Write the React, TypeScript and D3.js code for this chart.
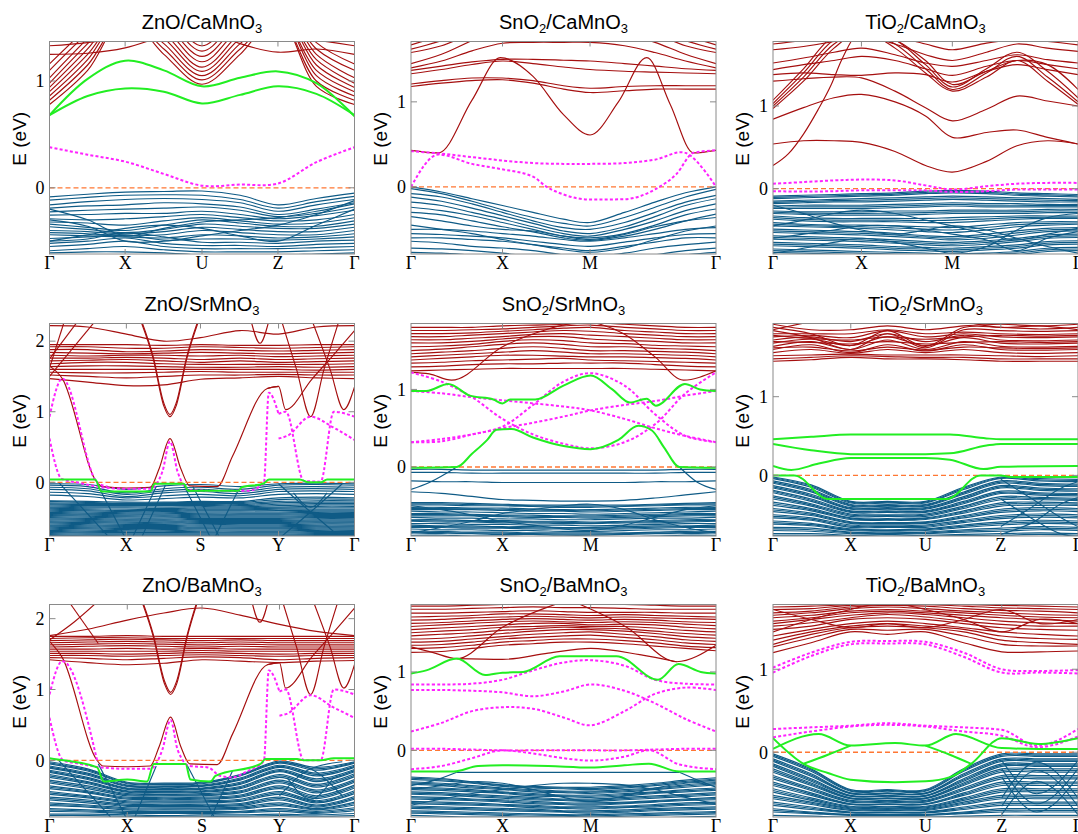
import React, { useEffect, useRef } from "react";
import * as d3 from "d3";

type Band = number[] | { k: number[]; e: number[] };

// ---------- ZnO/CaMnO3 ----------
const znoCaLabels = ["Γ", "X", "U", "Z", "Γ"];
const znoCaTicks = [0, 0.248, 0.5, 0.749, 1];
const znoCaK = [0, 0.125, 0.248, 0.375, 0.5, 0.625, 0.749, 0.875, 1];
const znoCaBlue: Band[] = [
  [-0.085, -0.06, -0.04, -0.035, -0.03, -0.07, -0.16, -0.1, -0.05],
  [-0.115, -0.09, -0.07, -0.065, -0.07, -0.11, -0.19, -0.13, -0.08],
  [-0.16, -0.13, -0.11, -0.1, -0.11, -0.14, -0.22, -0.16, -0.11],
  [-0.19, -0.17, -0.16, -0.14, -0.15, -0.18, -0.25, -0.2, -0.14],
  [-0.225, -0.21, -0.2, -0.19, -0.18, -0.21, -0.27, -0.24, -0.18],
  [-0.256, -0.25, -0.24, -0.24, -0.22, -0.25, -0.29, -0.26, -0.21],
  [-0.29, -0.3, -0.29, -0.27, -0.25, -0.28, -0.31, -0.3, -0.25],
  [-0.32, -0.33, -0.35, -0.31, -0.28, -0.31, -0.34, -0.33, -0.28],
  [-0.34, -0.37, -0.4, -0.35, -0.3, -0.33, -0.36, -0.36, -0.31],
  [-0.365, -0.39, -0.42, -0.39, -0.34, -0.36, -0.38, -0.38, -0.34],
  [-0.4, -0.41, -0.43, -0.41, -0.37, -0.39, -0.41, -0.41, -0.37],
  [-0.42, -0.43, -0.45, -0.44, -0.4, -0.42, -0.44, -0.44, -0.4],
  [-0.44, -0.45, -0.46, -0.47, -0.44, -0.45, -0.47, -0.46, -0.43],
  [-0.475, -0.46, -0.44, -0.49, -0.48, -0.48, -0.49, -0.48, -0.46],
  [-0.5, -0.48, -0.42, -0.46, -0.51, -0.51, -0.52, -0.5, -0.49],
  [-0.52, -0.5, -0.47, -0.52, -0.54, -0.54, -0.55, -0.53, -0.52],
  [-0.55, -0.53, -0.5, -0.55, -0.57, -0.57, -0.57, -0.56, -0.55],
  [-0.59, -0.57, -0.55, -0.58, -0.6, -0.6, -0.6, -0.59, -0.58],
  [-0.61, -0.6, -0.6, -0.61, -0.63, -0.63, -0.63, -0.62, -0.61],
  [-0.2, -0.3, -0.45, -0.38, -0.32, -0.3, -0.28, -0.22, -0.15],
  [-0.3, -0.36, -0.5, -0.5, -0.45, -0.4, -0.35, -0.25, -0.12],
  [-0.5, -0.44, -0.38, -0.35, -0.38, -0.45, -0.5, -0.35, -0.2],
];
const znoCaRed: Band[] = [
  [0.78, 1.1, 1.6, 1.25, 0.97, 1.25, 1.6, 0.95, 0.78],
  [0.82, 1.15, 1.6, 1.3, 1.01, 1.3, 1.6, 1.0, 0.82],
  [0.86, 1.2, 1.65, 1.35, 1.05, 1.35, 1.65, 1.05, 0.86],
  [0.9, 1.25, 1.65, 1.4, 1.09, 1.4, 1.65, 1.1, 0.9],
  [0.94, 1.3, 1.7, 1.45, 1.13, 1.45, 1.7, 1.15, 0.94],
  [0.98, 1.35, 1.7, 1.5, 1.18, 1.5, 1.7, 1.2, 0.98],
  [1.03, 1.4, 1.75, 1.55, 1.23, 1.55, 1.75, 1.25, 1.03],
  [1.1, 1.45, 1.75, 1.6, 1.28, 1.6, 1.75, 1.3, 1.1],
  [1.16, 1.5, 1.8, 1.65, 1.33, 1.65, 1.8, 1.36, 1.16],
  [1.25, 1.26, 1.31, 1.42, 1.5, 1.35, 1.27, 1.3, 1.25],
  [1.33, 1.36, 1.42, 1.6, 1.7, 1.5, 1.4, 1.38, 1.33],
];
const znoCaGreen: Band[] = [
  [0.68, 1.02, 1.19, 1.1, 0.95, 1.03, 1.09, 0.98, 0.67],
  [0.68, 0.86, 0.93, 0.9, 0.79, 0.87, 0.95, 0.88, 0.68],
];
const znoCaMagenta: Band[] = [[0.38, 0.31, 0.245, 0.13, 0.02, 0.03, 0.04, 0.24, 0.38]];

// ---------- SnO2/CaMnO3 ----------
const snoCaLabels = ["Γ", "X", "M", "Γ"];
const snoCaTicks = [0, 0.3, 0.587, 1];
const snoCaK = [0, 0.1, 0.2, 0.3, 0.4, 0.5, 0.587, 0.7, 0.8, 0.9, 1];
const snoCaBlue: Band[] = [
  [0.0, -0.06, -0.14, -0.22, -0.3, -0.38, -0.42, -0.3, -0.18, -0.07, 0.0],
  [-0.02, -0.08, -0.17, -0.27, -0.36, -0.43, -0.46, -0.36, -0.24, -0.12, -0.03],
  [-0.08, -0.12, -0.2, -0.3, -0.4, -0.48, -0.5, -0.42, -0.3, -0.18, -0.1],
  [-0.12, -0.17, -0.25, -0.34, -0.43, -0.52, -0.55, -0.47, -0.35, -0.22, -0.14],
  [-0.18, -0.22, -0.3, -0.38, -0.47, -0.55, -0.58, -0.5, -0.4, -0.28, -0.2],
  [-0.24, -0.28, -0.34, -0.42, -0.5, -0.58, -0.6, -0.55, -0.45, -0.33, -0.26],
  [-0.3, -0.33, -0.4, -0.47, -0.53, -0.6, -0.63, -0.58, -0.5, -0.4, -0.32],
  [-0.5, -0.5, -0.52, -0.55, -0.58, -0.62, -0.64, -0.6, -0.55, -0.5, -0.48],
  [-0.55, -0.56, -0.58, -0.6, -0.64, -0.68, -0.7, -0.65, -0.6, -0.56, -0.55],
  [-0.6, -0.6, -0.62, -0.64, -0.68, -0.72, -0.75, -0.7, -0.65, -0.6, -0.6],
  [-0.64, -0.66, -0.7, -0.72, -0.75, -0.8, -0.82, -0.78, -0.72, -0.68, -0.65],
  [-0.72, -0.73, -0.75, -0.78, -0.82, -0.85, -0.9, -0.85, -0.8, -0.75, -0.72],
  [-0.77, -0.78, -0.8, -0.82, -0.85, -0.9, -0.9, -0.88, -0.85, -0.8, -0.77],
  [-0.35, -0.4, -0.46, -0.5, -0.52, -0.58, -0.62, -0.56, -0.47, -0.4, -0.36],
  [-0.45, -0.5, -0.55, -0.62, -0.68, -0.74, -0.77, -0.72, -0.62, -0.52, -0.46],
];
const snoCaRed: Band[] = [
  { k: [0, 0.09, 0.2, 0.293, 0.4, 0.5, 0.587, 0.68, 0.773, 0.85, 0.926, 1], e: [0.43, 0.4, 1.02, 1.52, 1.3, 0.85, 0.61, 1.0, 1.52, 0.97, 0.4, 0.43] },
  [1.18, 1.22, 1.25, 1.26, 1.22, 1.15, 1.11, 1.13, 1.15, 1.15, 1.15],
  [1.21, 1.25, 1.28, 1.28, 1.25, 1.19, 1.16, 1.18, 1.19, 1.19, 1.19],
  [1.33, 1.38, 1.44, 1.48, 1.45, 1.41, 1.38, 1.36, 1.35, 1.34, 1.33],
  [1.37, 1.42, 1.47, 1.5, 1.5, 1.49, 1.48, 1.45, 1.42, 1.39, 1.37],
  [1.4, 1.48, 1.6, 1.69, 1.7, 1.7, 1.7, 1.66, 1.58, 1.48, 1.4],
  [1.45, 1.56, 1.72, 1.85, 1.85, 1.85, 1.85, 1.8, 1.7, 1.56, 1.45],
  [1.58, 1.66, 1.8, 1.9, 1.9, 1.9, 1.9, 1.9, 1.8, 1.66, 1.58],
  [1.62, 1.72, 1.85, 1.95, 1.95, 1.95, 1.95, 1.95, 1.85, 1.72, 1.62],
  [1.67, 1.78, 1.9, 2.0, 2.0, 2.0, 2.0, 2.0, 1.9, 1.78, 1.67],
];
const snoCaMagenta: Band[] = [
  [0.42, 0.39, 0.35, 0.31, 0.28, 0.27, 0.27, 0.28, 0.32, 0.4, 0.0],
  { k: [0, 0.09, 0.2, 0.293, 0.4, 0.445, 0.5, 0.587, 0.7, 0.8, 0.87, 0.926, 1], e: [0.0, 0.38, 0.27, 0.21, 0.12, 0.0, -0.09, -0.15, -0.145, -0.03, 0.15, 0.4, 0.43] },
];

// ---------- TiO2/CaMnO3 ----------
const tioCaLabels = ["Γ", "X", "M", "Γ"];
const tioCaTicks = [0, 0.29, 0.588, 1];
const tioCaK = [0, 0.1, 0.2, 0.29, 0.4, 0.5, 0.588, 0.7, 0.8, 0.9, 1];
const tioCaBlue: Band[] = [
  [-0.09, -0.08, -0.07, -0.06, -0.05, -0.03, -0.02, -0.03, -0.05, -0.06, -0.07],
  [-0.105, -0.095, -0.085, -0.075, -0.065, -0.045, -0.035, -0.045, -0.065, -0.075, -0.085],
  [-0.12, -0.11, -0.1, -0.09, -0.08, -0.06, -0.05, -0.06, -0.08, -0.09, -0.1],
  [-0.15, -0.14, -0.13, -0.12, -0.11, -0.1, -0.09, -0.1, -0.11, -0.12, -0.13],
  [-0.165, -0.155, -0.145, -0.14, -0.13, -0.12, -0.11, -0.12, -0.13, -0.14, -0.145],
  [-0.18, -0.17, -0.16, -0.16, -0.15, -0.14, -0.13, -0.14, -0.15, -0.16, -0.16],
  [-0.21, -0.2, -0.2, -0.2, -0.19, -0.18, -0.17, -0.18, -0.18, -0.19, -0.19],
  [-0.225, -0.22, -0.22, -0.22, -0.21, -0.2, -0.19, -0.2, -0.2, -0.205, -0.205],
  [-0.24, -0.24, -0.24, -0.24, -0.23, -0.22, -0.21, -0.22, -0.22, -0.22, -0.22],
  [-0.27, -0.28, -0.28, -0.28, -0.27, -0.27, -0.26, -0.26, -0.26, -0.25, -0.25],
  [-0.285, -0.295, -0.3, -0.3, -0.295, -0.29, -0.28, -0.28, -0.28, -0.27, -0.27],
  [-0.3, -0.31, -0.32, -0.32, -0.32, -0.31, -0.3, -0.3, -0.3, -0.29, -0.29],
  [-0.33, -0.35, -0.36, -0.36, -0.36, -0.36, -0.35, -0.34, -0.33, -0.33, -0.33],
  [-0.35, -0.37, -0.38, -0.38, -0.38, -0.385, -0.38, -0.365, -0.35, -0.345, -0.345],
  [-0.37, -0.39, -0.4, -0.4, -0.4, -0.41, -0.41, -0.39, -0.37, -0.36, -0.36],
  [-0.41, -0.43, -0.44, -0.44, -0.45, -0.46, -0.47, -0.44, -0.41, -0.4, -0.4],
  [-0.43, -0.445, -0.455, -0.46, -0.475, -0.49, -0.5, -0.47, -0.435, -0.42, -0.415],
  [-0.45, -0.46, -0.47, -0.48, -0.5, -0.52, -0.53, -0.5, -0.46, -0.44, -0.43],
  [-0.49, -0.5, -0.51, -0.52, -0.54, -0.57, -0.58, -0.55, -0.51, -0.48, -0.47],
  [-0.51, -0.52, -0.53, -0.54, -0.56, -0.585, -0.6, -0.575, -0.535, -0.5, -0.49],
  [-0.53, -0.54, -0.55, -0.56, -0.58, -0.6, -0.62, -0.6, -0.56, -0.52, -0.51],
  [-0.57, -0.58, -0.59, -0.6, -0.62, -0.64, -0.65, -0.63, -0.6, -0.56, -0.55],
  [-0.59, -0.6, -0.61, -0.62, -0.64, -0.66, -0.67, -0.65, -0.62, -0.58, -0.57],
  [-0.61, -0.62, -0.63, -0.64, -0.66, -0.68, -0.69, -0.67, -0.64, -0.6, -0.59],
  [-0.65, -0.66, -0.67, -0.68, -0.7, -0.71, -0.72, -0.7, -0.68, -0.64, -0.63],
  [-0.67, -0.68, -0.69, -0.7, -0.72, -0.73, -0.74, -0.72, -0.7, -0.66, -0.65],
  [-0.69, -0.7, -0.71, -0.72, -0.74, -0.75, -0.76, -0.74, -0.72, -0.68, -0.67],
  [-0.73, -0.74, -0.75, -0.76, -0.77, -0.78, -0.79, -0.78, -0.76, -0.72, -0.71],
  [-0.75, -0.76, -0.77, -0.78, -0.79, -0.8, -0.805, -0.795, -0.78, -0.74, -0.73],
  [-0.77, -0.78, -0.79, -0.8, -0.81, -0.82, -0.82, -0.81, -0.8, -0.76, -0.75],
  [-0.2, -0.3, -0.42, -0.5, -0.55, -0.5, -0.45, -0.5, -0.6, -0.7, -0.78],
  [-0.45, -0.38, -0.3, -0.26, -0.3, -0.38, -0.45, -0.55, -0.62, -0.55, -0.48],
  [-0.6, -0.55, -0.5, -0.45, -0.45, -0.5, -0.55, -0.62, -0.75, -0.6, -0.52],
  [-0.78, -0.72, -0.65, -0.6, -0.65, -0.72, -0.78, -0.7, -0.5, -0.35, -0.3],
];
const tioCaRed: Band[] = [
  { k: [0, 0.05, 0.1, 0.147, 0.19, 0.223, 0.256, 0.3], e: [0.28, 0.42, 0.66, 0.95, 1.25, 1.54, 1.78, 2.0] },
  [0.54, 0.58, 0.58, 0.56, 0.45, 0.28, 0.2, 0.33, 0.52, 0.58, 0.54],
  [0.84, 0.98, 1.1, 1.14, 1.05, 0.88, 0.62, 0.68, 0.71, 0.62, 0.54],
  [1.3, 1.33, 1.35, 1.34, 1.18, 0.98, 0.82, 0.96, 1.12, 1.06, 1.0],
  [0.97, 1.3, 1.7, 1.9, 1.7, 1.4, 1.18, 1.35, 1.55, 1.3, 1.02],
  [1.0, 1.35, 1.75, 1.9, 1.75, 1.45, 1.2, 1.4, 1.6, 1.35, 1.05],
  [1.03, 1.4, 1.8, 1.9, 1.8, 1.5, 1.23, 1.45, 1.65, 1.42, 1.1],
  [1.07, 1.45, 1.85, 1.9, 1.8, 1.55, 1.26, 1.42, 1.55, 1.5, 1.2],
  [1.38, 1.4, 1.38, 1.37, 1.4, 1.38, 1.29, 1.42, 1.5, 1.44, 1.38],
  [1.44, 1.5, 1.55, 1.6, 1.55, 1.45, 1.37, 1.48, 1.55, 1.5, 1.45],
  [1.52, 1.58, 1.65, 1.7, 1.62, 1.52, 1.48, 1.55, 1.62, 1.56, 1.52],
  [1.68, 1.72, 1.78, 1.85, 1.75, 1.62, 1.55, 1.65, 1.75, 1.7, 1.66],
  [1.75, 1.8, 1.9, 1.95, 1.85, 1.75, 1.68, 1.76, 1.8, 1.78, 1.74],
];
const tioCaMagenta: Band[] = [
  [0.06, 0.08, 0.1, 0.11, 0.1, 0.04, -0.01, 0.03, 0.06, 0.07, 0.07],
  [-0.03, -0.035, -0.03, -0.02, -0.02, -0.02, -0.04, -0.03, -0.01, -0.01, -0.01],
];

// ---------- ZnO/SrMnO3 ----------
const znoSrLabels = ["Γ", "X", "S", "Y", "Γ"];
const znoSrTicks = [0, 0.252, 0.495, 0.751, 1];
const znoSrK = [0, 0.125, 0.252, 0.375, 0.495, 0.625, 0.751, 0.875, 1];
const znoSrBlue: Band[] = [
  [-0.02, -0.03, -0.1, -0.05, -0.03, -0.06, -0.02, -0.01, -0.02],
  [-0.04, -0.06, -0.15, -0.09, -0.07, -0.1, -0.04, -0.03, -0.04],
  [-0.07, -0.09, -0.17, -0.12, -0.1, -0.13, -0.07, -0.06, -0.07],
  [-0.1, -0.12, -0.2, -0.15, -0.13, -0.16, -0.1, -0.09, -0.1],
  [-0.14, -0.16, -0.22, -0.19, -0.17, -0.19, -0.13, -0.12, -0.13],
  [-0.18, -0.2, -0.25, -0.23, -0.21, -0.22, -0.17, -0.16, -0.17],
  [-0.26, -0.27, -0.28, -0.28, -0.27, -0.27, -0.22, -0.21, -0.22],
  [-0.27, -0.285, -0.295, -0.29, -0.285, -0.285, -0.245, -0.235, -0.24],
  [-0.29, -0.3, -0.3, -0.3, -0.3, -0.3, -0.27, -0.26, -0.26],
  [-0.305, -0.315, -0.315, -0.315, -0.315, -0.315, -0.29, -0.28, -0.28],
  [-0.32, -0.33, -0.33, -0.33, -0.33, -0.33, -0.31, -0.3, -0.3],
  [-0.335, -0.345, -0.345, -0.35, -0.345, -0.345, -0.33, -0.32, -0.32],
  [-0.35, -0.36, -0.36, -0.37, -0.36, -0.36, -0.35, -0.34, -0.34],
  [-0.365, -0.375, -0.38, -0.385, -0.375, -0.375, -0.365, -0.36, -0.36],
  [-0.38, -0.39, -0.4, -0.4, -0.39, -0.39, -0.38, -0.38, -0.38],
  [-0.395, -0.405, -0.415, -0.415, -0.405, -0.405, -0.4, -0.395, -0.395],
  [-0.41, -0.42, -0.43, -0.43, -0.42, -0.42, -0.42, -0.41, -0.41],
  [-0.425, -0.435, -0.445, -0.445, -0.435, -0.435, -0.435, -0.425, -0.425],
  [-0.44, -0.45, -0.46, -0.46, -0.45, -0.45, -0.45, -0.44, -0.44],
  [-0.455, -0.465, -0.475, -0.475, -0.465, -0.465, -0.465, -0.455, -0.455],
  [-0.47, -0.48, -0.49, -0.49, -0.48, -0.48, -0.48, -0.47, -0.47],
  [-0.485, -0.495, -0.505, -0.505, -0.495, -0.495, -0.495, -0.485, -0.485],
  [-0.5, -0.51, -0.52, -0.52, -0.51, -0.51, -0.51, -0.5, -0.5],
  [-0.515, -0.525, -0.535, -0.535, -0.525, -0.525, -0.525, -0.515, -0.515],
  [-0.53, -0.54, -0.55, -0.55, -0.54, -0.54, -0.54, -0.53, -0.53],
  [-0.545, -0.555, -0.565, -0.565, -0.555, -0.555, -0.555, -0.545, -0.545],
  [-0.56, -0.57, -0.58, -0.58, -0.57, -0.57, -0.57, -0.56, -0.56],
  [-0.575, -0.585, -0.595, -0.595, -0.585, -0.585, -0.585, -0.575, -0.575],
  [-0.59, -0.6, -0.61, -0.61, -0.6, -0.6, -0.6, -0.59, -0.59],
  [-0.605, -0.615, -0.625, -0.625, -0.615, -0.615, -0.615, -0.605, -0.605],
  [-0.62, -0.63, -0.64, -0.64, -0.63, -0.63, -0.63, -0.62, -0.62],
  [-0.635, -0.645, -0.655, -0.655, -0.645, -0.645, -0.645, -0.635, -0.635],
  [-0.65, -0.66, -0.67, -0.67, -0.66, -0.66, -0.66, -0.65, -0.65],
  [-0.665, -0.675, -0.685, -0.685, -0.675, -0.675, -0.675, -0.665, -0.665],
  [-0.68, -0.69, -0.7, -0.7, -0.69, -0.69, -0.69, -0.68, -0.68],
  [-0.695, -0.705, -0.71, -0.71, -0.705, -0.705, -0.705, -0.695, -0.695],
  [-0.71, -0.72, -0.72, -0.72, -0.72, -0.72, -0.72, -0.71, -0.71],
  [-0.725, -0.735, -0.735, -0.735, -0.735, -0.735, -0.735, -0.725, -0.725],
  [-0.74, -0.75, -0.75, -0.75, -0.75, -0.75, -0.75, -0.74, -0.74],
  [-0.755, -0.76, -0.765, -0.765, -0.76, -0.76, -0.76, -0.755, -0.755],
  { k: [0.03, 0.2], e: [0.0, -0.8] },
  { k: [0.156, 0.25], e: [-0.02, -0.8] },
  { k: [0.27, 0.35], e: [-0.8, -0.06] },
  { k: [0.3, 0.38], e: [-0.8, -0.04] },
  { k: [0.44, 0.53], e: [-0.04, -0.8] },
  { k: [0.47, 0.56], e: [-0.06, -0.8] },
  { k: [0.54, 0.62], e: [-0.8, -0.1] },
  { k: [0.751, 0.856, 0.96], e: [-0.02, -0.42, -0.8] },
  { k: [0.751, 0.856, 0.96], e: [-0.8, -0.42, -0.02] },
  { k: [0.8, 0.856, 0.91], e: [-0.15, -0.35, -0.15] },
];
const znoSrRed: Band[] = [
  [1.47, 1.42, 1.37, 1.38, 1.46, 1.48, 1.5, 1.48, 1.47],
  [1.52, 1.5, 1.48, 1.5, 1.52, 1.52, 1.53, 1.52, 1.52],
  [1.56, 1.55, 1.55, 1.56, 1.57, 1.56, 1.56, 1.56, 1.56],
  [1.6, 1.6, 1.6, 1.6, 1.6, 1.6, 1.6, 1.59, 1.6],
  [1.64, 1.65, 1.65, 1.64, 1.63, 1.63, 1.64, 1.63, 1.64],
  [1.68, 1.7, 1.7, 1.68, 1.67, 1.67, 1.67, 1.67, 1.68],
  [1.72, 1.73, 1.74, 1.72, 1.7, 1.72, 1.7, 1.71, 1.72],
  [1.76, 1.76, 1.77, 1.76, 1.74, 1.76, 1.74, 1.75, 1.76],
  [1.8, 1.79, 1.8, 1.8, 1.79, 1.8, 1.78, 1.79, 1.8],
  [1.84, 1.83, 1.82, 1.83, 1.84, 1.83, 1.82, 1.83, 1.84],
  [1.88, 1.88, 1.85, 1.86, 1.88, 1.87, 1.86, 1.87, 1.88],
  [1.92, 1.92, 1.9, 1.9, 1.92, 1.91, 1.9, 1.91, 1.92],
  [1.95, 1.95, 1.95, 1.94, 1.95, 1.94, 1.94, 1.95, 1.95],
  [2.22, 2.2, 2.1, 2.0, 2.05, 2.15, 2.1, 2.2, 2.22],
  { k: [0, 0.042, 0.156, 0.175, 0.252, 0.33, 0.36, 0.395, 0.43, 0.46, 0.55, 0.6, 0.714, 0.751], e: [1.65, 1.47, 0.0, -0.06, -0.08, -0.07, 0.2, 0.62, 0.2, -0.05, -0.06, 0.37, 1.33, 1.36] },
  { k: [0, 0.05], e: [1.62, 2.3] },
  { k: [0, 0.153], e: [1.5, 2.3] },
  { k: [0, 0.096], e: [1.75, 2.3] },
  { k: [0.298, 0.34, 0.375, 0.395, 0.415, 0.45, 0.49], e: [2.3, 1.75, 1.08, 0.93, 1.08, 1.75, 2.3] },
  { k: [0.298, 0.34, 0.375, 0.395, 0.415, 0.45, 0.49], e: [2.33, 1.78, 1.12, 0.96, 1.12, 1.78, 2.33] },
  { k: [0.714, 0.751, 0.774, 0.86, 0.93, 1], e: [1.33, 1.36, 1.03, 1.46, 1.8, 2.15] },
  { k: [0.76, 0.81, 0.856, 0.9, 0.95], e: [2.3, 1.6, 0.93, 1.6, 2.3] },
  { k: [0.86, 0.92, 0.965, 1], e: [2.3, 1.6, 1.03, 1.35] },
  { k: [0.66, 0.69, 0.72], e: [2.3, 1.97, 2.3] },
];
const znoSrGreen: Band[] = [
  { k: [0, 0.15, 0.17, 0.33, 0.345, 0.44, 0.455, 0.62, 0.63, 0.7, 0.72, 0.82, 0.85, 0.89, 0.91, 1], e: [0.04, 0.04, -0.13, -0.13, -0.02, -0.02, -0.12, -0.12, -0.07, -0.02, 0.04, 0.04, 0.0, 0.0, 0.04, 0.04] },
];
const znoSrMagenta: Band[] = [
  { k: [0, 0.04, 0.1, 0.17, 0.252, 0.33, 0.37, 0.395, 0.42, 0.46, 0.55, 0.65, 0.703, 0.719, 0.751], e: [0.62, 0.05, -0.01, -0.07, -0.09, -0.09, 0.15, 0.58, 0.15, -0.11, -0.12, -0.12, -0.01, 1.27, 0.97] },
  { k: [0.751, 0.775, 0.834, 0.889, 0.932, 1], e: [0.97, 1.0, 0.02, 0.01, 1.0, 0.93] },
  { k: [0.751, 0.78, 0.856, 0.93, 1], e: [0.62, 0.66, 0.93, 0.78, 0.6] },
  { k: [0, 0.042, 0.156, 0.19], e: [0.93, 1.47, 0.0, -0.06] },
];

// ---------- SnO2/SrMnO3 ----------
const snoSrLabels = ["Γ", "X", "M", "Γ"];
const snoSrTicks = [0, 0.3, 0.589, 1];
const snoSrK = [0, 0.1, 0.2, 0.3, 0.4, 0.5, 0.589, 0.7, 0.8, 0.9, 1];
const snoSrBlue: Band[] = [
  [-0.03, -0.03, -0.04, -0.04, -0.04, -0.04, -0.04, -0.04, -0.04, -0.03, -0.03],
  [-0.07, -0.07, -0.08, -0.08, -0.08, -0.08, -0.08, -0.08, -0.08, -0.07, -0.07],
  [-0.18, -0.19, -0.19, -0.2, -0.2, -0.2, -0.2, -0.2, -0.19, -0.19, -0.18],
  { k: [0, 0.06, 0.15], e: [-0.29, -0.2, 0.0] },
  { k: [0.88, 0.94, 1], e: [0.0, -0.2, -0.29] },
  [-0.32, -0.34, -0.38, -0.42, -0.43, -0.44, -0.44, -0.43, -0.4, -0.36, -0.32],
  [-0.46, -0.46, -0.47, -0.48, -0.49, -0.49, -0.49, -0.49, -0.48, -0.47, -0.46],
  [-0.475, -0.475, -0.485, -0.49, -0.5, -0.505, -0.505, -0.5, -0.49, -0.48, -0.475],
  [-0.49, -0.49, -0.5, -0.5, -0.51, -0.52, -0.52, -0.51, -0.5, -0.49, -0.49],
  [-0.52, -0.52, -0.53, -0.53, -0.54, -0.55, -0.55, -0.54, -0.53, -0.52, -0.52],
  [-0.535, -0.535, -0.54, -0.545, -0.555, -0.56, -0.565, -0.555, -0.545, -0.535, -0.535],
  [-0.55, -0.55, -0.55, -0.56, -0.57, -0.57, -0.58, -0.57, -0.56, -0.55, -0.55],
  [-0.57, -0.58, -0.58, -0.59, -0.6, -0.6, -0.61, -0.6, -0.59, -0.58, -0.57],
  [-0.6, -0.6, -0.61, -0.62, -0.62, -0.63, -0.63, -0.62, -0.61, -0.6, -0.6],
  [-0.615, -0.615, -0.62, -0.63, -0.635, -0.64, -0.645, -0.635, -0.625, -0.615, -0.615],
  [-0.63, -0.63, -0.63, -0.64, -0.65, -0.65, -0.66, -0.65, -0.64, -0.63, -0.63],
  [-0.65, -0.66, -0.66, -0.67, -0.67, -0.68, -0.68, -0.67, -0.66, -0.66, -0.65],
  [-0.68, -0.68, -0.69, -0.69, -0.7, -0.7, -0.71, -0.7, -0.69, -0.68, -0.68],
  [-0.69, -0.695, -0.7, -0.705, -0.71, -0.715, -0.72, -0.71, -0.705, -0.695, -0.69],
  [-0.7, -0.71, -0.71, -0.72, -0.72, -0.73, -0.73, -0.72, -0.72, -0.71, -0.7],
  [-0.73, -0.73, -0.74, -0.74, -0.75, -0.75, -0.76, -0.75, -0.74, -0.73, -0.73],
  [-0.75, -0.76, -0.76, -0.77, -0.77, -0.78, -0.78, -0.77, -0.76, -0.76, -0.75],
  [-0.765, -0.77, -0.775, -0.78, -0.785, -0.79, -0.79, -0.785, -0.775, -0.77, -0.765],
  [-0.78, -0.78, -0.79, -0.79, -0.8, -0.8, -0.8, -0.8, -0.79, -0.78, -0.78],
  [-0.8, -0.81, -0.81, -0.82, -0.82, -0.83, -0.83, -0.82, -0.81, -0.81, -0.8],
  [-0.83, -0.83, -0.84, -0.84, -0.85, -0.85, -0.85, -0.85, -0.84, -0.83, -0.83],
  [-0.84, -0.845, -0.85, -0.855, -0.86, -0.865, -0.865, -0.86, -0.85, -0.845, -0.84],
  [-0.85, -0.86, -0.86, -0.87, -0.87, -0.88, -0.88, -0.87, -0.86, -0.86, -0.85],
  [-0.88, -0.88, -0.89, -0.89, -0.9, -0.9, -0.9, -0.9, -0.89, -0.88, -0.88],
  [-0.5, -0.55, -0.62, -0.7, -0.75, -0.8, -0.82, -0.75, -0.65, -0.55, -0.5],
  [-0.85, -0.78, -0.7, -0.6, -0.55, -0.5, -0.48, -0.55, -0.68, -0.78, -0.85],
];
const snoSrRed: Band[] = [
  [1.24, 1.25, 1.26, 1.27, 1.27, 1.27, 1.27, 1.27, 1.26, 1.25, 1.24],
  [1.29, 1.3, 1.32, 1.33, 1.33, 1.34, 1.34, 1.34, 1.32, 1.3, 1.29],
  [1.34, 1.35, 1.37, 1.38, 1.39, 1.4, 1.38, 1.37, 1.36, 1.35, 1.34],
  [1.38, 1.4, 1.42, 1.44, 1.44, 1.43, 1.42, 1.42, 1.41, 1.4, 1.38],
  [1.42, 1.44, 1.46, 1.48, 1.5, 1.48, 1.46, 1.46, 1.45, 1.44, 1.42],
  [1.46, 1.48, 1.5, 1.53, 1.55, 1.53, 1.5, 1.5, 1.49, 1.48, 1.46],
  [1.5, 1.52, 1.55, 1.58, 1.6, 1.58, 1.55, 1.55, 1.53, 1.52, 1.5],
  [1.55, 1.56, 1.58, 1.62, 1.64, 1.63, 1.6, 1.59, 1.57, 1.56, 1.55],
  [1.6, 1.6, 1.62, 1.65, 1.68, 1.68, 1.65, 1.63, 1.62, 1.6, 1.6],
  [1.64, 1.64, 1.66, 1.68, 1.71, 1.72, 1.7, 1.68, 1.66, 1.64, 1.64],
  [1.68, 1.68, 1.7, 1.72, 1.74, 1.76, 1.75, 1.72, 1.7, 1.68, 1.68],
  [1.72, 1.72, 1.73, 1.75, 1.77, 1.79, 1.8, 1.76, 1.74, 1.72, 1.72],
  [1.76, 1.76, 1.77, 1.78, 1.8, 1.82, 1.83, 1.8, 1.78, 1.76, 1.76],
  [1.8, 1.8, 1.8, 1.82, 1.83, 1.84, 1.86, 1.84, 1.82, 1.8, 1.8],
  { k: [0, 0.06, 0.133, 0.3, 0.45, 0.589], e: [1.22, 1.2, 1.12, 1.55, 1.78, 1.9] },
  { k: [0.55, 0.696, 0.8, 0.893, 1], e: [1.9, 1.72, 1.42, 1.12, 1.24] },
];
const snoSrGreen: Band[] = [
  { k: [0, 0.05, 0.122, 0.193, 0.27, 0.3, 0.325, 0.407, 0.5, 0.589, 0.66, 0.718, 0.773, 0.803, 0.898, 0.948, 1], e: [0.98, 0.98, 1.07, 0.92, 0.87, 0.82, 0.87, 0.87, 1.05, 1.18, 1.0, 0.83, 0.88, 0.79, 1.07, 1.0, 0.98] },
  { k: [0, 0.15, 0.2, 0.25, 0.28, 0.33, 0.4, 0.5, 0.589, 0.68, 0.745, 0.79, 0.83, 0.88, 1], e: [-0.01, 0.0, 0.17, 0.35, 0.48, 0.49, 0.38, 0.27, 0.23, 0.35, 0.53, 0.47, 0.25, 0.0, -0.01] },
];
const snoSrMagenta: Band[] = [
  [0.32, 0.36, 0.42, 0.5, 0.57, 0.65, 0.73, 0.8, 0.85, 0.92, 0.98],
  [0.98, 0.95, 0.9, 0.86, 0.82, 0.78, 0.73, 0.62, 0.5, 0.4, 0.32],
  [1.22, 1.1, 0.9, 0.62, 0.42, 0.3, 0.24, 0.32, 0.55, 0.95, 1.22],
  [0.32, 0.33, 0.42, 0.52, 0.8, 1.1, 1.21, 1.05, 0.68, 0.4, 0.32],
];

// ---------- TiO2/SrMnO3 ----------
const tioSrLabels = ["Γ", "X", "U", "Z", "Γ"];
const tioSrTicks = [0, 0.255, 0.5, 0.747, 1];
const tioSrK = [0, 0.125, 0.255, 0.375, 0.5, 0.625, 0.747, 0.875, 1];
const tioSrBlue: Band[] = [
  [-0.02, -0.12, -0.33, -0.33, -0.33, -0.15, -0.02, -0.04, -0.05],
  [-0.03, -0.135, -0.34, -0.34, -0.34, -0.165, -0.03, -0.055, -0.065],
  [-0.04, -0.15, -0.35, -0.35, -0.35, -0.18, -0.04, -0.07, -0.08],
  [-0.07, -0.18, -0.37, -0.37, -0.37, -0.21, -0.07, -0.1, -0.11],
  [-0.085, -0.195, -0.38, -0.38, -0.38, -0.225, -0.085, -0.115, -0.125],
  [-0.1, -0.21, -0.39, -0.39, -0.39, -0.24, -0.1, -0.13, -0.14],
  [-0.13, -0.24, -0.41, -0.41, -0.41, -0.27, -0.13, -0.16, -0.17],
  [-0.145, -0.255, -0.42, -0.42, -0.42, -0.285, -0.145, -0.175, -0.185],
  [-0.16, -0.27, -0.43, -0.43, -0.43, -0.3, -0.16, -0.19, -0.2],
  [-0.19, -0.3, -0.45, -0.45, -0.45, -0.33, -0.2, -0.22, -0.23],
  [-0.205, -0.315, -0.46, -0.46, -0.46, -0.345, -0.215, -0.235, -0.245],
  [-0.22, -0.33, -0.47, -0.47, -0.47, -0.36, -0.23, -0.25, -0.26],
  [-0.26, -0.36, -0.49, -0.5, -0.49, -0.39, -0.27, -0.28, -0.29],
  [-0.28, -0.375, -0.505, -0.51, -0.505, -0.405, -0.29, -0.295, -0.305],
  [-0.3, -0.39, -0.52, -0.52, -0.52, -0.42, -0.31, -0.31, -0.32],
  [-0.34, -0.42, -0.54, -0.55, -0.54, -0.45, -0.35, -0.34, -0.35],
  [-0.36, -0.435, -0.55, -0.56, -0.55, -0.465, -0.37, -0.36, -0.365],
  [-0.38, -0.45, -0.56, -0.57, -0.56, -0.48, -0.39, -0.38, -0.38],
  [-0.42, -0.48, -0.59, -0.6, -0.59, -0.51, -0.43, -0.41, -0.42],
  [-0.44, -0.495, -0.6, -0.61, -0.6, -0.525, -0.45, -0.43, -0.44],
  [-0.46, -0.51, -0.61, -0.62, -0.61, -0.54, -0.47, -0.45, -0.46],
  [-0.5, -0.54, -0.63, -0.64, -0.63, -0.57, -0.51, -0.49, -0.5],
  [-0.52, -0.555, -0.645, -0.65, -0.645, -0.585, -0.53, -0.51, -0.52],
  [-0.54, -0.57, -0.66, -0.66, -0.66, -0.6, -0.55, -0.53, -0.54],
  [-0.58, -0.61, -0.68, -0.69, -0.68, -0.63, -0.59, -0.57, -0.58],
  [-0.6, -0.625, -0.69, -0.7, -0.69, -0.645, -0.61, -0.59, -0.6],
  [-0.62, -0.64, -0.7, -0.71, -0.7, -0.66, -0.63, -0.61, -0.62],
  [-0.66, -0.67, -0.72, -0.73, -0.72, -0.69, -0.67, -0.65, -0.66],
  [-0.68, -0.69, -0.73, -0.74, -0.73, -0.705, -0.69, -0.67, -0.68],
  [-0.7, -0.71, -0.74, -0.75, -0.74, -0.72, -0.71, -0.69, -0.7],
  [-0.74, -0.74, -0.76, -0.77, -0.76, -0.75, -0.74, -0.73, -0.74],
  [-0.76, -0.76, -0.77, -0.78, -0.77, -0.765, -0.76, -0.75, -0.76],
  { k: [0.747, 0.85, 0.95, 1], e: [-0.05, -0.3, -0.55, -0.65] },
  { k: [0.747, 0.85, 0.95, 1], e: [-0.65, -0.4, -0.15, -0.08] },
  { k: [0.747, 0.85, 0.95, 1], e: [-0.3, -0.55, -0.75, -0.78] },
  { k: [0.747, 0.85, 0.95, 1], e: [-0.75, -0.6, -0.35, -0.28] },
];
const tioSrRed: Band[] = [
  [1.45, 1.47, 1.5, 1.48, 1.48, 1.47, 1.45, 1.45, 1.45],
  [1.48, 1.5, 1.52, 1.51, 1.5, 1.5, 1.48, 1.48, 1.48],
  [1.52, 1.53, 1.54, 1.53, 1.53, 1.53, 1.52, 1.51, 1.52],
  [1.56, 1.6, 1.55, 1.6, 1.56, 1.6, 1.56, 1.55, 1.56],
  [1.6, 1.66, 1.56, 1.66, 1.58, 1.66, 1.6, 1.59, 1.6],
  [1.62, 1.63, 1.58, 1.63, 1.59, 1.63, 1.62, 1.61, 1.62],
  [1.64, 1.7, 1.6, 1.72, 1.6, 1.7, 1.64, 1.63, 1.64],
  [1.68, 1.73, 1.65, 1.76, 1.65, 1.75, 1.68, 1.67, 1.68],
  [1.7, 1.69, 1.67, 1.7, 1.67, 1.69, 1.7, 1.69, 1.7],
  [1.72, 1.76, 1.7, 1.8, 1.7, 1.78, 1.72, 1.71, 1.72],
  [1.76, 1.78, 1.75, 1.84, 1.76, 1.8, 1.76, 1.75, 1.76],
  [1.78, 1.74, 1.72, 1.76, 1.73, 1.76, 1.78, 1.77, 1.78],
  [1.8, 1.8, 1.8, 1.85, 1.8, 1.82, 1.8, 1.79, 1.8],
  [1.84, 1.75, 1.6, 1.8, 1.62, 1.85, 1.84, 1.83, 1.84],
  [1.88, 1.8, 1.65, 1.84, 1.64, 1.88, 1.88, 1.86, 1.88],
  [1.92, 1.85, 1.85, 1.9, 1.85, 1.9, 1.92, 1.9, 1.92],
  [1.85, 1.95, 2.0, 1.95, 2.0, 1.95, 1.88, 1.9, 1.85],
];
const tioSrGreen: Band[] = [
  { k: [0, 0.125, 0.255, 0.5, 0.58, 0.7, 0.747, 1], e: [0.46, 0.49, 0.52, 0.52, 0.52, 0.47, 0.46, 0.46] },
  { k: [0, 0.125, 0.255, 0.5, 0.58, 0.7, 0.747, 1], e: [0.4, 0.32, 0.27, 0.27, 0.28, 0.38, 0.4, 0.4] },
  { k: [0, 0.06, 0.15, 0.255, 0.5, 0.58, 0.69, 0.747, 1], e: [0.12, 0.07, 0.15, 0.22, 0.22, 0.2, 0.08, 0.11, 0.12] },
  { k: [0, 0.07, 0.18, 0.255, 0.5, 0.57, 0.68, 0.747, 0.78, 1], e: [0.0, 0.0, -0.3, -0.3, -0.3, -0.3, 0.0, 0.0, -0.02, -0.02] },
];
const tioSrMagenta: Band[] = [];

// ---------- ZnO/BaMnO3 ----------
const znoBaLabels = ["Γ", "X", "S", "Y", "Γ"];
const znoBaTicks = [0, 0.255, 0.5, 0.754, 1];
const znoBaK = [0, 0.125, 0.255, 0.375, 0.5, 0.625, 0.754, 0.875, 1];
const znoBaBlue: Band[] = [
  [-0.02, -0.12, -0.31, -0.32, -0.31, -0.2, -0.01, -0.1, -0.02],
  [-0.035, -0.135, -0.32, -0.33, -0.32, -0.21, -0.025, -0.12, -0.03],
  [-0.05, -0.15, -0.33, -0.34, -0.33, -0.22, -0.04, -0.14, -0.04],
  [-0.08, -0.18, -0.35, -0.36, -0.35, -0.25, -0.07, -0.18, -0.07],
  [-0.095, -0.195, -0.36, -0.37, -0.36, -0.265, -0.085, -0.2, -0.085],
  [-0.11, -0.21, -0.37, -0.38, -0.37, -0.28, -0.1, -0.22, -0.1],
  [-0.14, -0.24, -0.39, -0.4, -0.39, -0.31, -0.13, -0.26, -0.13],
  [-0.155, -0.255, -0.4, -0.41, -0.4, -0.325, -0.145, -0.28, -0.145],
  [-0.17, -0.27, -0.41, -0.42, -0.41, -0.34, -0.16, -0.3, -0.16],
  [-0.2, -0.3, -0.43, -0.44, -0.43, -0.37, -0.2, -0.34, -0.19],
  [-0.22, -0.315, -0.44, -0.45, -0.44, -0.385, -0.22, -0.36, -0.21],
  [-0.24, -0.33, -0.45, -0.46, -0.45, -0.4, -0.24, -0.38, -0.23],
  [-0.28, -0.36, -0.47, -0.48, -0.47, -0.43, -0.28, -0.42, -0.27],
  [-0.3, -0.38, -0.485, -0.49, -0.485, -0.445, -0.3, -0.44, -0.29],
  [-0.32, -0.4, -0.5, -0.5, -0.5, -0.46, -0.32, -0.46, -0.31],
  [-0.36, -0.43, -0.52, -0.52, -0.52, -0.49, -0.36, -0.5, -0.35],
  [-0.38, -0.445, -0.535, -0.535, -0.535, -0.505, -0.38, -0.52, -0.37],
  [-0.4, -0.46, -0.55, -0.55, -0.55, -0.52, -0.4, -0.54, -0.39],
  [-0.44, -0.5, -0.57, -0.57, -0.57, -0.55, -0.44, -0.57, -0.43],
  [-0.46, -0.515, -0.585, -0.585, -0.585, -0.565, -0.46, -0.585, -0.45],
  [-0.48, -0.53, -0.6, -0.6, -0.6, -0.58, -0.48, -0.6, -0.47],
  [-0.52, -0.56, -0.62, -0.62, -0.62, -0.61, -0.52, -0.63, -0.51],
  [-0.54, -0.58, -0.635, -0.635, -0.635, -0.625, -0.54, -0.645, -0.53],
  [-0.56, -0.6, -0.65, -0.65, -0.65, -0.64, -0.56, -0.66, -0.55],
  [-0.6, -0.63, -0.67, -0.67, -0.67, -0.66, -0.6, -0.68, -0.59],
  [-0.62, -0.645, -0.685, -0.685, -0.685, -0.675, -0.62, -0.69, -0.61],
  [-0.64, -0.66, -0.7, -0.7, -0.7, -0.69, -0.64, -0.7, -0.63],
  [-0.68, -0.7, -0.72, -0.72, -0.72, -0.72, -0.68, -0.72, -0.67],
  [-0.7, -0.715, -0.735, -0.735, -0.735, -0.73, -0.7, -0.735, -0.69],
  [-0.72, -0.73, -0.75, -0.75, -0.75, -0.74, -0.72, -0.75, -0.71],
  [-0.76, -0.76, -0.77, -0.78, -0.77, -0.77, -0.76, -0.77, -0.75],
  [-0.78, -0.78, -0.79, -0.79, -0.79, -0.79, -0.78, -0.79, -0.78],
  { k: [0.03, 0.2], e: [0.0, -0.8] },
  { k: [0.16, 0.25], e: [-0.05, -0.8] },
  { k: [0.28, 0.35], e: [-0.8, -0.08] },
  { k: [0.45, 0.54], e: [-0.06, -0.8] },
  { k: [0.53, 0.6], e: [-0.8, -0.15] },
  { k: [0.754, 0.856, 0.96], e: [-0.02, -0.12, -0.5] },
  { k: [0.754, 0.856, 0.96], e: [-0.5, -0.12, -0.02] },
  { k: [0.78, 0.856, 0.93], e: [-0.25, -0.55, -0.25] },
];
const znoBaRed: Band[] = [
  [1.42, 1.38, 1.35, 1.37, 1.42, 1.4, 1.38, 1.4, 1.41],
  [1.45, 1.44, 1.42, 1.44, 1.46, 1.45, 1.42, 1.44, 1.45],
  [1.48, 1.48, 1.47, 1.48, 1.49, 1.48, 1.47, 1.48, 1.48],
  [1.51, 1.51, 1.5, 1.51, 1.52, 1.51, 1.5, 1.51, 1.51],
  [1.54, 1.54, 1.54, 1.54, 1.55, 1.54, 1.54, 1.54, 1.54],
  [1.57, 1.57, 1.58, 1.57, 1.58, 1.57, 1.57, 1.57, 1.57],
  [1.6, 1.61, 1.62, 1.61, 1.6, 1.61, 1.6, 1.6, 1.6],
  [1.63, 1.64, 1.65, 1.64, 1.63, 1.64, 1.63, 1.63, 1.63],
  [1.66, 1.67, 1.68, 1.67, 1.66, 1.67, 1.66, 1.66, 1.66],
  [1.69, 1.7, 1.71, 1.7, 1.69, 1.7, 1.69, 1.69, 1.69],
  [1.72, 1.73, 1.73, 1.72, 1.72, 1.72, 1.72, 1.72, 1.72],
  [1.75, 1.75, 1.76, 1.75, 1.75, 1.75, 1.75, 1.75, 1.75],
  [1.76, 1.85, 1.98, 2.08, 2.15, 2.05, 1.92, 1.82, 1.76],
  { k: [0, 0.042, 0.156, 0.175, 0.255, 0.33, 0.36, 0.397, 0.43, 0.46, 0.55, 0.6, 0.714, 0.754], e: [1.68, 1.45, 0.0, -0.08, -0.09, -0.08, 0.2, 0.61, 0.2, -0.05, -0.06, 0.37, 1.35, 1.38] },
  { k: [0.07, 0.16], e: [2.2, 1.65] },
  { k: [0, 0.08, 0.16], e: [1.7, 1.95, 2.25] },
  { k: [0.298, 0.34, 0.377, 0.397, 0.417, 0.452, 0.49], e: [2.3, 1.75, 1.08, 0.93, 1.08, 1.75, 2.3] },
  { k: [0.298, 0.34, 0.377, 0.397, 0.417, 0.452, 0.49], e: [2.33, 1.78, 1.12, 0.96, 1.12, 1.78, 2.33] },
  { k: [0.714, 0.754, 0.774, 0.86, 0.93, 1], e: [1.35, 1.38, 1.02, 1.46, 1.8, 2.15] },
  { k: [0.76, 0.81, 0.856, 0.9, 0.95], e: [2.3, 1.6, 0.93, 1.6, 2.3] },
  { k: [0.86, 0.92, 0.965, 1], e: [2.3, 1.6, 1.02, 1.35] },
  { k: [0.66, 0.69, 0.72], e: [2.3, 1.95, 2.3] },
];
const znoBaGreen: Band[] = [
  { k: [0, 0.047, 0.156, 0.178, 0.255, 0.32, 0.342, 0.446, 0.462, 0.528, 0.544, 0.692, 0.708, 0.812, 0.834, 0.889, 0.932, 1], e: [0.03, 0.0, -0.1, -0.3, -0.27, -0.3, -0.05, -0.05, -0.27, -0.3, -0.22, -0.05, 0.02, 0.02, 0.0, 0.0, 0.03, 0.03] },
];
const znoBaMagenta: Band[] = [
  { k: [0, 0.045, 0.1, 0.17, 0.255, 0.33, 0.37, 0.397, 0.42, 0.46, 0.52, 0.56, 0.6, 0.65, 0.703, 0.719, 0.754], e: [0.6, 0.0, -0.05, -0.1, -0.12, -0.12, 0.15, 0.57, 0.15, -0.08, -0.1, -0.22, -0.24, -0.15, -0.01, 1.27, 0.97] },
  { k: [0.754, 0.775, 0.834, 0.889, 0.932, 1], e: [0.97, 1.0, 0.0, 0.0, 1.0, 0.93] },
  { k: [0.754, 0.78, 0.856, 0.93, 1], e: [0.63, 0.66, 0.92, 0.75, 0.6] },
  { k: [0, 0.042, 0.156], e: [0.93, 1.4, 0.0] },
];

// ---------- SnO2/BaMnO3 ----------
const snoBaLabels = ["Γ", "X", "M", "Γ"];
const snoBaTicks = [0, 0.3, 0.589, 1];
const snoBaK = [0, 0.1, 0.2, 0.3, 0.4, 0.5, 0.589, 0.7, 0.8, 0.9, 1];
const snoBaBlue: Band[] = [
  { k: [0.15, 0.3, 0.5, 0.7, 0.88], e: [-0.28, -0.28, -0.28, -0.28, -0.28] },
  { k: [0, 0.08, 0.15], e: [-0.45, -0.38, -0.28] },
  { k: [0.88, 0.94, 1], e: [-0.28, -0.38, -0.47] },
  [-0.34, -0.36, -0.4, -0.44, -0.46, -0.47, -0.47, -0.45, -0.42, -0.38, -0.35],
  [-0.355, -0.375, -0.41, -0.45, -0.47, -0.48, -0.485, -0.465, -0.435, -0.395, -0.365],
  [-0.37, -0.39, -0.42, -0.46, -0.48, -0.49, -0.5, -0.48, -0.45, -0.41, -0.38],
  [-0.4, -0.42, -0.45, -0.48, -0.5, -0.52, -0.52, -0.5, -0.48, -0.44, -0.41],
  [-0.415, -0.435, -0.465, -0.49, -0.515, -0.53, -0.535, -0.515, -0.49, -0.455, -0.425],
  [-0.43, -0.45, -0.48, -0.5, -0.53, -0.54, -0.55, -0.53, -0.5, -0.47, -0.44],
  [-0.47, -0.48, -0.5, -0.53, -0.55, -0.57, -0.57, -0.55, -0.53, -0.5, -0.48],
  [-0.485, -0.495, -0.515, -0.54, -0.565, -0.58, -0.585, -0.565, -0.54, -0.515, -0.495],
  [-0.5, -0.51, -0.53, -0.55, -0.58, -0.59, -0.6, -0.58, -0.55, -0.53, -0.51],
  [-0.53, -0.54, -0.56, -0.58, -0.6, -0.62, -0.62, -0.6, -0.58, -0.56, -0.54],
  [-0.545, -0.555, -0.575, -0.595, -0.615, -0.63, -0.635, -0.615, -0.595, -0.575, -0.555],
  [-0.56, -0.57, -0.59, -0.61, -0.63, -0.64, -0.65, -0.63, -0.61, -0.59, -0.57],
  [-0.59, -0.6, -0.62, -0.63, -0.65, -0.67, -0.67, -0.66, -0.64, -0.62, -0.6],
  [-0.605, -0.615, -0.63, -0.645, -0.665, -0.68, -0.685, -0.67, -0.65, -0.63, -0.615],
  [-0.62, -0.63, -0.64, -0.66, -0.68, -0.69, -0.7, -0.68, -0.66, -0.64, -0.63],
  [-0.65, -0.66, -0.67, -0.69, -0.7, -0.72, -0.72, -0.71, -0.69, -0.67, -0.66],
  [-0.665, -0.675, -0.685, -0.7, -0.715, -0.73, -0.735, -0.72, -0.705, -0.685, -0.675],
  [-0.68, -0.69, -0.7, -0.71, -0.73, -0.74, -0.75, -0.73, -0.72, -0.7, -0.69],
  [-0.71, -0.72, -0.73, -0.74, -0.75, -0.77, -0.77, -0.76, -0.74, -0.73, -0.72],
  [-0.725, -0.735, -0.745, -0.755, -0.765, -0.78, -0.785, -0.775, -0.755, -0.745, -0.735],
  [-0.74, -0.75, -0.76, -0.77, -0.78, -0.79, -0.8, -0.79, -0.77, -0.76, -0.75],
  [-0.77, -0.78, -0.79, -0.8, -0.81, -0.82, -0.82, -0.81, -0.8, -0.79, -0.78],
  [-0.785, -0.795, -0.805, -0.815, -0.825, -0.83, -0.835, -0.825, -0.815, -0.805, -0.795],
  [-0.8, -0.81, -0.82, -0.83, -0.84, -0.84, -0.85, -0.84, -0.83, -0.82, -0.81],
  [-0.83, -0.84, -0.85, -0.85, -0.86, -0.87, -0.87, -0.86, -0.86, -0.85, -0.84],
  [-0.5, -0.45, -0.4, -0.42, -0.5, -0.6, -0.65, -0.58, -0.48, -0.42, -0.4],
  [-0.7, -0.62, -0.55, -0.5, -0.45, -0.42, -0.42, -0.44, -0.5, -0.6, -0.68],
];
const snoBaRed: Band[] = [
  [1.25, 1.26, 1.3, 1.34, 1.36, 1.38, 1.38, 1.36, 1.33, 1.3, 1.27],
  [1.3, 1.31, 1.34, 1.38, 1.4, 1.42, 1.42, 1.4, 1.37, 1.33, 1.31],
  [1.34, 1.35, 1.38, 1.42, 1.44, 1.46, 1.47, 1.44, 1.41, 1.37, 1.35],
  [1.38, 1.39, 1.42, 1.45, 1.48, 1.5, 1.51, 1.48, 1.45, 1.41, 1.39],
  [1.42, 1.43, 1.46, 1.49, 1.52, 1.54, 1.54, 1.52, 1.49, 1.45, 1.43],
  [1.46, 1.48, 1.5, 1.53, 1.55, 1.57, 1.56, 1.55, 1.52, 1.49, 1.47],
  [1.5, 1.52, 1.54, 1.57, 1.58, 1.59, 1.58, 1.58, 1.56, 1.53, 1.51],
  [1.54, 1.56, 1.58, 1.6, 1.62, 1.62, 1.6, 1.61, 1.6, 1.57, 1.55],
  [1.58, 1.6, 1.62, 1.64, 1.65, 1.64, 1.63, 1.64, 1.63, 1.61, 1.59],
  [1.62, 1.63, 1.65, 1.67, 1.68, 1.67, 1.66, 1.67, 1.66, 1.64, 1.63],
  [1.66, 1.67, 1.69, 1.7, 1.71, 1.7, 1.69, 1.7, 1.69, 1.68, 1.67],
  [1.7, 1.71, 1.72, 1.74, 1.74, 1.73, 1.72, 1.73, 1.72, 1.71, 1.7],
  [1.75, 1.75, 1.76, 1.77, 1.78, 1.77, 1.76, 1.76, 1.76, 1.75, 1.75],
  [1.8, 1.8, 1.81, 1.82, 1.83, 1.82, 1.82, 1.81, 1.8, 1.8, 1.8],
  [1.84, 1.84, 1.85, 1.86, 1.87, 1.87, 1.86, 1.86, 1.85, 1.84, 1.84],
  { k: [0, 0.07, 0.15, 0.3, 0.45, 0.55], e: [1.32, 1.25, 1.17, 1.57, 1.83, 1.95] },
  { k: [0.5, 0.707, 0.871, 1], e: [1.95, 1.57, 1.13, 1.34] },
  { k: [0.15, 0.3, 0.45, 0.589, 0.75, 0.871], e: [1.17, 1.16, 1.24, 1.3, 1.22, 1.13] },
];
const snoBaGreen: Band[] = [
  { k: [0, 0.05, 0.15, 0.243, 0.3, 0.368, 0.487, 0.589, 0.674, 0.81, 0.877, 0.95, 1], e: [0.98, 1.02, 1.17, 0.96, 0.99, 1.0, 1.2, 1.2, 1.2, 0.9, 1.1, 1.0, 0.98] },
  { k: [0, 0.14, 0.22, 0.3, 0.45, 0.589, 0.7, 0.78, 0.88, 1], e: [-0.27, -0.27, -0.2, -0.19, -0.2, -0.22, -0.19, -0.17, -0.27, -0.27] },
];
const snoBaMagenta: Band[] = [
  [0.84, 0.84, 0.85, 0.9, 1.02, 1.12, 1.15, 1.08, 0.9, 0.85, 0.84],
  [0.77, 0.77, 0.76, 0.74, 0.69, 0.75, 0.84, 0.76, 0.6, 0.4, 0.24],
  [0.24, 0.35, 0.5, 0.55, 0.53, 0.42, 0.32, 0.5, 0.72, 0.8, 0.77],
  [0.02, 0.02, 0.01, 0.0, 0.0, 0.0, 0.0, 0.0, 0.01, 0.02, 0.02],
  { k: [0, 0.1, 0.2, 0.3, 0.4, 0.5, 0.589, 0.7, 0.78, 0.88, 1], e: [-0.24, -0.2, -0.1, 0.0, -0.04, -0.1, -0.13, -0.08, 0.0, -0.18, -0.24] },
];

// ---------- TiO2/BaMnO3 ----------
const tioBaLabels = ["Γ", "X", "U", "Z", "Γ"];
const tioBaTicks = [0, 0.254, 0.5, 0.75, 1];
const tioBaK = [0, 0.125, 0.254, 0.375, 0.5, 0.625, 0.75, 0.875, 1];
const tioBaBlue: Band[] = [
  [-0.02, -0.2, -0.45, -0.45, -0.45, -0.2, -0.02, -0.02, -0.02],
  [-0.035, -0.215, -0.46, -0.46, -0.46, -0.215, -0.035, -0.035, -0.035],
  [-0.05, -0.23, -0.47, -0.47, -0.47, -0.23, -0.05, -0.05, -0.05],
  [-0.08, -0.26, -0.49, -0.49, -0.49, -0.26, -0.08, -0.08, -0.08],
  [-0.095, -0.275, -0.495, -0.495, -0.495, -0.275, -0.095, -0.095, -0.095],
  [-0.11, -0.29, -0.5, -0.5, -0.5, -0.29, -0.11, -0.11, -0.11],
  [-0.14, -0.32, -0.52, -0.52, -0.52, -0.32, -0.14, -0.14, -0.14],
  [-0.155, -0.335, -0.525, -0.525, -0.525, -0.335, -0.155, -0.155, -0.155],
  [-0.17, -0.35, -0.53, -0.53, -0.53, -0.35, -0.17, -0.17, -0.17],
  [-0.2, -0.37, -0.55, -0.55, -0.55, -0.37, -0.2, -0.2, -0.2],
  [-0.22, -0.385, -0.555, -0.555, -0.555, -0.385, -0.22, -0.22, -0.22],
  [-0.24, -0.4, -0.56, -0.56, -0.56, -0.4, -0.24, -0.24, -0.24],
  [-0.28, -0.43, -0.58, -0.58, -0.58, -0.43, -0.28, -0.28, -0.28],
  [-0.3, -0.445, -0.59, -0.59, -0.59, -0.445, -0.3, -0.3, -0.3],
  [-0.32, -0.46, -0.6, -0.6, -0.6, -0.46, -0.32, -0.32, -0.32],
  [-0.36, -0.49, -0.62, -0.62, -0.62, -0.49, -0.36, -0.36, -0.36],
  [-0.38, -0.505, -0.625, -0.625, -0.625, -0.505, -0.38, -0.38, -0.38],
  [-0.4, -0.52, -0.63, -0.63, -0.63, -0.52, -0.4, -0.4, -0.4],
  [-0.44, -0.55, -0.65, -0.65, -0.65, -0.55, -0.44, -0.44, -0.44],
  [-0.46, -0.565, -0.66, -0.66, -0.66, -0.565, -0.46, -0.46, -0.46],
  [-0.48, -0.58, -0.67, -0.67, -0.67, -0.58, -0.48, -0.48, -0.48],
  [-0.52, -0.6, -0.68, -0.68, -0.68, -0.6, -0.52, -0.52, -0.52],
  [-0.54, -0.615, -0.69, -0.69, -0.69, -0.615, -0.54, -0.54, -0.54],
  [-0.56, -0.63, -0.7, -0.7, -0.7, -0.63, -0.56, -0.56, -0.56],
  [-0.6, -0.66, -0.72, -0.72, -0.72, -0.66, -0.6, -0.6, -0.6],
  [-0.62, -0.675, -0.725, -0.725, -0.725, -0.675, -0.62, -0.62, -0.62],
  [-0.64, -0.69, -0.73, -0.73, -0.73, -0.69, -0.64, -0.64, -0.64],
  [-0.68, -0.72, -0.75, -0.75, -0.75, -0.72, -0.68, -0.68, -0.68],
  [-0.7, -0.73, -0.755, -0.755, -0.755, -0.73, -0.7, -0.7, -0.7],
  [-0.72, -0.74, -0.76, -0.76, -0.76, -0.74, -0.72, -0.72, -0.72],
  [-0.76, -0.77, -0.78, -0.78, -0.78, -0.77, -0.76, -0.76, -0.76],
  { k: [0.75, 0.865, 1], e: [-0.1, -0.5, -0.1] },
  { k: [0.75, 0.865, 1], e: [-0.75, -0.35, -0.75] },
  { k: [0.75, 0.865, 1], e: [-0.2, -0.62, -0.2] },
  { k: [0.75, 0.865, 1], e: [-0.65, -0.22, -0.65] },
  { k: [0.75, 0.865, 1], e: [-0.3, -0.72, -0.3] },
  { k: [0.75, 0.865, 1], e: [-0.55, -0.12, -0.55] },
];
const tioBaRed: Band[] = [
  [1.2, 1.32, 1.45, 1.42, 1.45, 1.32, 1.21, 1.21, 1.22],
  [1.27, 1.38, 1.48, 1.47, 1.48, 1.4, 1.3, 1.28, 1.28],
  [1.3, 1.42, 1.5, 1.52, 1.5, 1.45, 1.35, 1.32, 1.3],
  [1.35, 1.45, 1.52, 1.55, 1.52, 1.48, 1.4, 1.37, 1.36],
  [1.4, 1.48, 1.55, 1.58, 1.55, 1.5, 1.45, 1.42, 1.4],
  [1.48, 1.52, 1.6, 1.62, 1.6, 1.55, 1.5, 1.48, 1.47],
  [1.52, 1.56, 1.62, 1.66, 1.63, 1.58, 1.54, 1.52, 1.52],
  [1.55, 1.6, 1.65, 1.68, 1.66, 1.62, 1.58, 1.56, 1.55],
  [1.58, 1.62, 1.68, 1.7, 1.68, 1.65, 1.62, 1.6, 1.58],
  [1.62, 1.65, 1.7, 1.72, 1.7, 1.68, 1.65, 1.63, 1.62],
  [1.65, 1.68, 1.73, 1.75, 1.73, 1.7, 1.68, 1.66, 1.65],
  [1.68, 1.7, 1.75, 1.77, 1.76, 1.73, 1.71, 1.7, 1.68],
  [1.72, 1.73, 1.77, 1.78, 1.78, 1.76, 1.74, 1.73, 1.72],
  [1.75, 1.76, 1.78, 1.8, 1.8, 1.78, 1.77, 1.76, 1.75],
  [1.45, 1.6, 1.72, 1.8, 1.72, 1.6, 1.45, 1.6, 1.55],
  [1.72, 1.6, 1.5, 1.55, 1.5, 1.6, 1.72, 1.55, 1.6],
];
const tioBaGreen: Band[] = [
  { k: [0, 0.15, 0.254, 0.4, 0.5, 0.6, 0.75, 0.87, 1], e: [0.04, 0.22, 0.08, 0.11, 0.08, 0.22, 0.05, 0.04, 0.04] },
  { k: [0, 0.1, 0.18, 0.254, 0.4, 0.5, 0.58, 0.65, 0.75, 0.87, 1], e: [0.17, -0.14, -0.25, -0.33, -0.36, -0.35, -0.3, -0.14, 0.17, 0.1, 0.17] },
  { k: [0.1, 0.18, 0.254], e: [-0.14, -0.03, 0.08] },
  { k: [0.5, 0.58, 0.65], e: [0.08, -0.03, -0.14] },
];
const tioBaMagenta: Band[] = [
  [1.02, 1.2, 1.33, 1.34, 1.33, 1.2, 1.0, 0.98, 0.99],
  [0.96, 1.16, 1.3, 1.31, 1.3, 1.15, 0.96, 0.96, 0.95],
  { k: [0, 0.125, 0.254, 0.375, 0.5, 0.625, 0.75, 0.865, 1], e: [0.28, 0.3, 0.32, 0.35, 0.32, 0.3, 0.27, 0.08, 0.28] },
  { k: [0, 0.125, 0.254, 0.375, 0.5, 0.625, 0.75, 0.865, 1], e: [0.18, 0.25, 0.31, 0.33, 0.31, 0.25, 0.2, 0.06, 0.19] },
];

type Panel = {
  title: string; col: number; row: number; yDomain: [number, number]; yTicks: number[];
  kTicks: number[]; kLabels: string[]; k: number[];
  blue: Band[]; red: Band[]; green: Band[]; magenta: Band[];
};

const panels: Panel[] = [
  { title: "ZnO/CaMnO_3", col: 0, row: 0, yDomain: [-0.62, 1.37], yTicks: [0, 1], kTicks: znoCaTicks, kLabels: znoCaLabels, k: znoCaK, blue: znoCaBlue, red: znoCaRed, green: znoCaGreen, magenta: znoCaMagenta },
  { title: "SnO_2/CaMnO_3", col: 1, row: 0, yDomain: [-0.79, 1.71], yTicks: [0, 1], kTicks: snoCaTicks, kLabels: snoCaLabels, k: snoCaK, blue: snoCaBlue, red: snoCaRed, green: [], magenta: snoCaMagenta },
  { title: "TiO_2/CaMnO_3", col: 2, row: 0, yDomain: [-0.79, 1.78], yTicks: [0, 1], kTicks: tioCaTicks, kLabels: tioCaLabels, k: tioCaK, blue: tioCaBlue, red: tioCaRed, green: [], magenta: tioCaMagenta },
  { title: "ZnO/SrMnO_3", col: 0, row: 1, yDomain: [-0.76, 2.25], yTicks: [0, 1, 2], kTicks: znoSrTicks, kLabels: znoSrLabels, k: znoSrK, blue: znoSrBlue, red: znoSrRed, green: znoSrGreen, magenta: znoSrMagenta },
  { title: "SnO_2/SrMnO_3", col: 1, row: 1, yDomain: [-0.89, 1.85], yTicks: [0, 1], kTicks: snoSrTicks, kLabels: snoSrLabels, k: snoSrK, blue: snoSrBlue, red: snoSrRed, green: snoSrGreen, magenta: snoSrMagenta },
  { title: "TiO_2/SrMnO_3", col: 2, row: 1, yDomain: [-0.77, 1.93], yTicks: [0, 1], kTicks: tioSrTicks, kLabels: tioSrLabels, k: tioSrK, blue: tioSrBlue, red: tioSrRed, green: tioSrGreen, magenta: tioSrMagenta },
  { title: "ZnO/BaMnO_3", col: 0, row: 2, yDomain: [-0.8, 2.2], yTicks: [0, 1, 2], kTicks: znoBaTicks, kLabels: znoBaLabels, k: znoBaK, blue: znoBaBlue, red: znoBaRed, green: znoBaGreen, magenta: znoBaMagenta },
  { title: "SnO_2/BaMnO_3", col: 1, row: 2, yDomain: [-0.85, 1.86], yTicks: [0, 1], kTicks: snoBaTicks, kLabels: snoBaLabels, k: snoBaK, blue: snoBaBlue, red: snoBaRed, green: snoBaGreen, magenta: snoBaMagenta },
  { title: "TiO_2/BaMnO_3", col: 2, row: 2, yDomain: [-0.78, 1.78], yTicks: [0, 1], kTicks: tioBaTicks, kLabels: tioBaLabels, k: tioBaK, blue: tioBaBlue, red: tioBaRed, green: tioBaGreen, magenta: tioBaMagenta },
];

const colX = [49.5, 411, 773];
const rowY = [41.5, 323.5, 604.5];
const PW = 305;
const PH = 212.5;

const BLUE = "#0f5b86";
const RED = "#a50f0f";
const GREEN = "#22ee22";
const MAGENTA = "#ff22ff";
const ORANGE = "#ff7733";
const FRAME = "#8a8a8a";

const toPoints = (b: Band, grid: number[]): [number, number][] =>
  Array.isArray(b) ? b.map((e, i) => [grid[i], e] as [number, number]) : b.k.map((k, i) => [k, b.e[i]] as [number, number]);

const BandChart = () => {
  const ref = useRef<HTMLDivElement>(null);
  useEffect(() => {
    if (!ref.current) return;
    d3.select(ref.current).select("svg").remove();
    const svg = d3
      .select(ref.current)
      .append("svg")
      .attr("width", 1078)
      .attr("height", 834)
      .style("display", "block")
      .style("background", "#fff");

    panels.forEach((p, idx) => {
      const g = svg.append("g").attr("transform", `translate(${colX[p.col]},${rowY[p.row]})`);
      const x = d3.scaleLinear().domain([0, 1]).range([0, PW]);
      const y = d3.scaleLinear().domain(p.yDomain).range([PH, 0]);
      // smooth curves through grid bands, shape-preserving ones for hand-placed k points
      const smooth = d3
        .line<[number, number]>()
        .x((d) => x(d[0]))
        .y((d) => y(d[1]))
        .curve(d3.curveCatmullRom.alpha(0.5));
      const mono = d3
        .line<[number, number]>()
        .x((d) => x(d[0]))
        .y((d) => y(d[1]))
        .curve(d3.curveMonotoneX);

      const clipId = `clip-${idx}`;
      g.append("clipPath").attr("id", clipId).append("rect").attr("width", PW).attr("height", PH);
      const plot = g.append("g").attr("clip-path", `url(#${clipId})`);

      const drawBands = (bands: Band[], color: string, width: number, dash?: string) => {
        bands.forEach((b) => {
          const gen = Array.isArray(b) ? smooth : mono;
          const path = plot
            .append("path")
            .attr("d", gen(toPoints(b, p.k)))
            .attr("fill", "none")
            .attr("stroke", color)
            .attr("stroke-width", width);
          if (dash) path.attr("stroke-dasharray", dash);
        });
      };

      drawBands(p.blue, BLUE, 1.15);
      drawBands(p.red, RED, 1.15);
      plot
        .append("line")
        .attr("x1", 0)
        .attr("x2", PW)
        .attr("y1", y(0))
        .attr("y2", y(0))
        .attr("stroke", ORANGE)
        .attr("stroke-width", 1.3)
        .attr("stroke-dasharray", "5,3");
      drawBands(p.magenta, MAGENTA, 2, "3,2.2");
      drawBands(p.green, GREEN, 2);

      // frame and ticks
      g.append("rect").attr("width", PW).attr("height", PH).attr("fill", "none").attr("stroke", FRAME).attr("stroke-width", 1);
      p.kTicks.slice(1, -1).forEach((t) => {
        g.append("line").attr("x1", x(t)).attr("x2", x(t)).attr("y1", 0).attr("y2", 5).attr("stroke", FRAME);
        g.append("line").attr("x1", x(t)).attr("x2", x(t)).attr("y1", PH).attr("y2", PH - 5).attr("stroke", FRAME);
      });
      p.yTicks.forEach((t) => {
        g.append("line").attr("x1", 0).attr("x2", 6).attr("y1", y(t)).attr("y2", y(t)).attr("stroke", FRAME);
        g.append("line").attr("x1", PW).attr("x2", PW - 6).attr("y1", y(t)).attr("y2", y(t)).attr("stroke", FRAME);
        g.append("text")
          .attr("x", -5)
          .attr("y", y(t))
          .attr("dy", "0.35em")
          .attr("text-anchor", "end")
          .attr("font-family", "'Liberation Serif', serif")
          .attr("font-size", 18)
          .text(String(t));
      });
      p.kTicks.forEach((t, i) => {
        g.append("text")
          .attr("x", x(t))
          .attr("y", PH + 14.5)
          .attr("text-anchor", "middle")
          .attr("font-family", "'Liberation Serif', serif")
          .attr("font-size", 18)
          .text(p.kLabels[i]);
      });

      // y label
      g.append("text")
        .attr("transform", `translate(-24,${PH / 2 - 9}) rotate(-90)`)
        .attr("text-anchor", "middle")
        .attr("font-family", "'Liberation Sans', Arial, sans-serif")
        .attr("font-size", 19)
        .text("E (eV)");

      // title with subscripts
      const title = g
        .append("text")
        .attr("x", PW / 2)
        .attr("y", -13)
        .attr("text-anchor", "middle")
        .attr("font-family", "'Liberation Sans', Arial, sans-serif")
        .attr("font-size", 20);
      const parts = p.title.split(/_(\d)/);
      parts.forEach((part, i) => {
        if (!part) return;
        if (i % 2 === 1) {
          title.append("tspan").attr("font-size", 13).attr("dy", 4).text(part);
        } else {
          title.append("tspan").attr("dy", i > 0 ? -4 : 0).text(part);
        }
      });
    });
  }, []);
  return <div ref={ref} style={{ position: "absolute", left: 0, top: 0 }}></div>;
};

export default function App() {
  return <BandChart />;
}
